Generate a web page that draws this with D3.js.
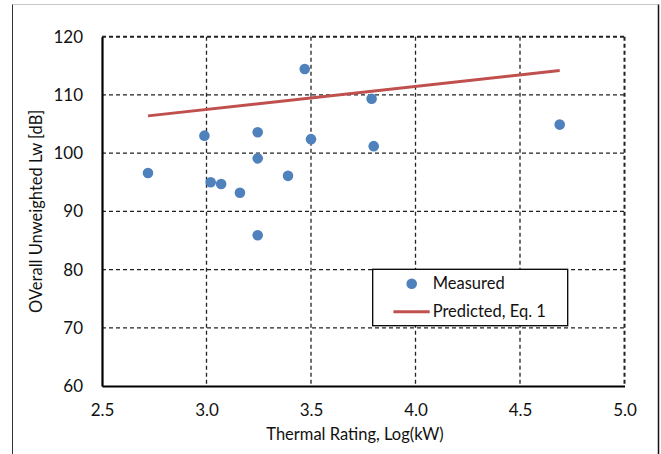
<!DOCTYPE html>
<html>
<head>
<meta charset="utf-8">
<script src="https://cdn.jsdelivr.net/npm/d3@7"></script>
<style>
  body { margin: 0; background: #fff; }
  svg { font-family: Lato, "Open Sans", sans-serif; }
</style>
</head>
<body>
<script>
var width = 661, height = 454;

// measured points: log10(kW) and Lw [dB]
var measuredX = [2.72, 2.99, 3.02, 3.07, 3.16, 3.245, 3.245, 3.245, 3.39, 3.47, 3.50, 3.79, 3.80, 4.69];
var measuredY = [96.6, 103.0, 95.0, 94.7, 93.2, 103.6, 99.1, 85.9, 96.1, 114.45, 102.4, 109.35, 101.2, 104.9];

// predicted, Eq. 1
var predX = [2.72, 4.69];
var predY = [106.4, 114.2];

var xTicks = [2.5, 3.0, 3.5, 4.0, 4.5, 5.0];
var yTicks = [60, 70, 80, 90, 100, 110, 120];

var margin = {top: 36.7, right: 36.5, bottom: 68, left: 102};
var w = width - margin.left - margin.right,
  h = height - margin.top - margin.bottom;

var svg = d3.select("body").append("svg")
  .attr("width", width)
  .attr("height", height);

// outer chart frame (partial, as in the picture)
svg.append("line").attr("x1", 12.5).attr("x2", 658.5).attr("y1", 4.5).attr("y2", 4.5)
  .attr("stroke", "#c8c8c8").attr("stroke-width", 1);
svg.append("line").attr("x1", 12.5).attr("x2", 12.5).attr("y1", 4.5).attr("y2", height)
  .attr("stroke", "#333").attr("stroke-width", 1);
svg.append("line").attr("x1", 658.5).attr("x2", 658.5).attr("y1", 4.5).attr("y2", height)
  .attr("stroke", "#111").attr("stroke-width", 1.5);

var g = svg.append("g").attr("transform", "translate(" + margin.left + "," + margin.top + ")");

var x = d3.scaleLinear().domain([2.5, 5.0]).range([0, w]);
var y = d3.scaleLinear().domain([60, 120]).range([h, 0]);

// grid lines (dashed)
g.selectAll(".gx").data(xTicks.slice(1)).enter().append("line")
  .attr("x1", function(d) { return x(d); })
  .attr("x2", function(d) { return x(d); })
  .attr("y1", 0).attr("y2", h)
  .attr("stroke", "#222")
  .attr("stroke-width", function(d) { return d == 5.0 ? 2 : 1.3; })
  .attr("stroke-dasharray", "4,3");

g.selectAll(".gy").data(yTicks.slice(1)).enter().append("line")
  .attr("x1", 0).attr("x2", w)
  .attr("y1", function(d) { return y(d); })
  .attr("y2", function(d) { return y(d); })
  .attr("stroke", "#222")
  .attr("stroke-width", function(d) { return d == 120 ? 2 : 1.3; })
  .attr("stroke-dasharray", "4,3");

// axes
var xAxis = d3.axisBottom(x).tickValues(xTicks).tickSize(0).tickPadding(18)
  .tickFormat(d3.format(".1f"));
var yAxis = d3.axisLeft(y).tickValues(yTicks).tickSize(0).tickPadding(19);

g.append("g").attr("transform", "translate(0," + h + ")").call(xAxis)
  .call(function(s) { s.select(".domain").attr("stroke", "#000").attr("stroke-width", 2.2); });
g.append("g").call(yAxis)
  .call(function(s) { s.select(".domain").attr("stroke", "#000").attr("stroke-width", 2.2); });

g.selectAll(".tick text")
  .attr("font-family", "Lato, sans-serif")
  .attr("font-size", 17)
  .attr("fill", "#111");

// predicted line
var line = d3.line()
  .x(function(d) { return x(d[0]); })
  .y(function(d) { return y(d[1]); });

g.append("path")
  .datum(d3.zip(predX, predY))
  .attr("d", line)
  .attr("fill", "none")
  .attr("stroke", "#c0504d")
  .attr("stroke-width", 3);

// measured points
g.selectAll(".dot").data(d3.zip(measuredX, measuredY)).enter().append("circle")
  .attr("cx", function(d) { return x(d[0]); })
  .attr("cy", function(d) { return y(d[1]); })
  .attr("r", 5.3)
  .attr("fill", "#4f81bd");

// axis titles
svg.append("text")
  .attr("x", 355)
  .attr("y", 440)
  .attr("text-anchor", "middle")
  .attr("font-size", 16.5)
  .attr("fill", "#111")
  .text("Thermal Rating, Log(kW)");

svg.append("text")
  .attr("transform", "translate(42," + (margin.top + h / 2) + ") rotate(-90)")
  .attr("text-anchor", "middle")
  .attr("font-size", 16.5)
  .attr("fill", "#111")
  .text("OVerall Unweighted Lw [dB]");

// legend
var lg = svg.append("g").attr("transform", "translate(372.7,269.3)");
lg.append("rect")
  .attr("width", 195).attr("height", 56.4)
  .attr("fill", "#fff")
  .attr("stroke", "#000").attr("stroke-width", 1.3);
lg.append("circle").attr("cx", 39).attr("cy", 14.4).attr("r", 5.3).attr("fill", "#4f81bd");
lg.append("text").attr("x", 60).attr("y", 14.4).attr("dy", "0.35em")
  .attr("font-size", 16.5).attr("fill", "#111").text("Measured");
lg.append("line").attr("x1", 20.7).attr("x2", 57).attr("y1", 42.4).attr("y2", 42.4)
  .attr("stroke", "#c0504d").attr("stroke-width", 3);
lg.append("text").attr("x", 60).attr("y", 42.4).attr("dy", "0.35em")
  .attr("font-size", 16.5).attr("fill", "#111").text("Predicted, Eq. 1");
</script>
</body>
</html>
